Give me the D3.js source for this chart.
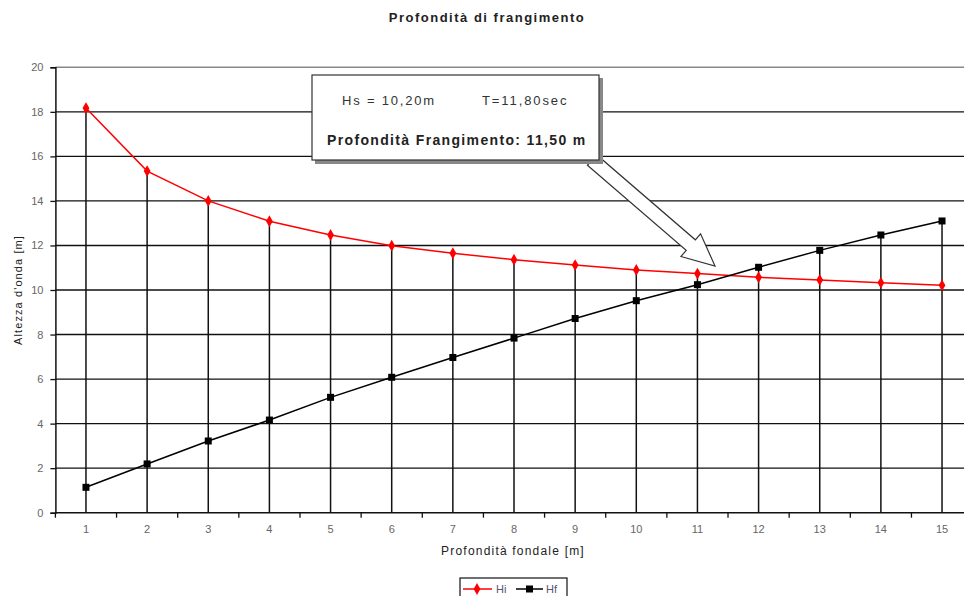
<!DOCTYPE html>
<html><head><meta charset="utf-8">
<script src="https://cdn.jsdelivr.net/npm/d3@7"></script>
<style>body{margin:0;background:#fff;}svg{display:block;font-family:"Liberation Sans",Arial,sans-serif;}</style>
</head><body><svg id="c" width="964" height="596"></svg>
<script>
const categories = [1,2,3,4,5,6,7,8,9,10,11,12,13,14,15];
const hiValues = [18.17,15.34,14.0,13.09,12.47,11.99,11.65,11.36,11.12,10.9,10.74,10.57,10.45,10.33,10.21];
const hfValues = [1.14,2.19,3.22,4.16,5.18,6.08,6.97,7.84,8.72,9.52,10.24,11.02,11.78,12.47,13.1];
const yTicks = [0,2,4,6,8,10,12,14,16,18,20];
const seriesNames = ["Hi","Hf"];
const titleText = "Profondità di frangimento";
const xTitle = "Profondità fondale [m]";
const yTitle = "Altezza d'onda [m]";
const noteLine1a = "Hs = 10,20m";
const noteLine1b = "T=11,80sec";
const noteLine2 = "Profondità Frangimento: 11,50 m";

const svg = d3.select("#c");
const L = 55.4, R = 972.6, T = 67.3, B = 512.7;
const x = d3.scaleBand().domain(categories).range([L, R]);
const cx = d => x(d) + x.bandwidth()/2;
const y = d3.scaleLinear().domain([0,20]).range([B, T]);

// title
svg.append("text").attr("x", 487).attr("y", 22).attr("text-anchor","middle")
  .attr("font-size", 13).attr("font-weight","bold").attr("fill","#222").attr("letter-spacing","1.5").text(titleText);

// horizontal gridlines
svg.append("g").selectAll("line").data(yTicks.filter(v => v > 0)).join("line")
  .attr("x1", L).attr("x2", R).attr("y1", d => y(d)).attr("y2", d => y(d))
  .attr("stroke", d => d === 20 ? "#888" : "#111").attr("stroke-width", 1.4);

// drop lines
svg.append("g").selectAll("line").data(categories).join("line")
  .attr("x1", d => cx(d)).attr("x2", d => cx(d))
  .attr("y1", B).attr("y2", (d,i) => y(Math.max(hiValues[i], hfValues[i])))
  .attr("stroke", "#111").attr("stroke-width", 1.5);

// y axis
const ya = svg.append("g").attr("transform", `translate(${L},0)`)
  .call(d3.axisLeft(y).tickValues(yTicks).tickSize(5).tickPadding(7).tickFormat(d3.format("d")));
ya.select(".domain").attr("stroke","#111").attr("stroke-width",1.5);
ya.selectAll(".tick line").attr("stroke","#111").attr("stroke-width",1.3);
ya.selectAll("text").attr("font-size", 11).attr("fill","#666").attr("font-family","Liberation Sans, Arial, sans-serif");

// x axis
const xa = svg.append("g").attr("transform", `translate(0,${B})`)
  .call(d3.axisBottom(x).tickSize(0).tickPadding(13));
xa.select(".domain").remove();
xa.selectAll("text").attr("font-size", 11).attr("fill","#666").attr("font-family","Liberation Sans, Arial, sans-serif");
svg.append("line").attr("x1", L).attr("x2", R).attr("y1", B).attr("y2", B).attr("stroke","#111").attr("stroke-width",1.5);
const bounds = categories.map(d => x(d)).concat([R]);
svg.append("g").selectAll("line").data(bounds).join("line")
  .attr("x1", d => d).attr("x2", d => d).attr("y1", B).attr("y2", B + 5)
  .attr("stroke","#111").attr("stroke-width",1.3);

// axis titles
svg.append("text").attr("x", 513).attr("y", 555).attr("text-anchor","middle")
  .attr("font-size", 12).attr("fill","#222").attr("letter-spacing","1.2").text(xTitle);
svg.append("text").attr("transform", `translate(22,290) rotate(-90)`).attr("text-anchor","middle")
  .attr("font-size", 11).attr("fill","#222").attr("letter-spacing","1.1").text(yTitle);

// lines
const line = d3.line().x((d,i) => cx(categories[i])).y(d => y(d));
svg.append("path").datum(hiValues).attr("d", line).attr("fill","none").attr("stroke","#ff0000").attr("stroke-width",1.5);
svg.append("path").datum(hfValues).attr("d", line).attr("fill","none").attr("stroke","#000").attr("stroke-width",1.5);

// markers
svg.append("g").selectAll("path").data(hiValues).join("path")
  .attr("transform", (d,i) => `translate(${cx(categories[i])},${y(d)})`)
  .attr("d", d3.symbol(d3.symbolDiamond, 40)).attr("fill","#ff0000");
svg.append("g").selectAll("rect").data(hfValues).join("rect")
  .attr("x", (d,i) => cx(categories[i]) - 3.5).attr("y", d => y(d) - 3.5)
  .attr("width", 7).attr("height", 7).attr("fill","#000");

// annotation arrow (block arrow)
(function(){
  const sx = 592, sy = 160, tx = 715, ty = 266;
  const dx = tx - sx, dy = ty - sy, len = Math.hypot(dx, dy);
  const ux = dx/len, uy = dy/len, px = -uy, py = ux;
  const sw = 7, hw = 15, hl = 32;
  const bx = tx - ux*hl, by = ty - uy*hl;
  const pts = [
    [sx + px*sw, sy + py*sw], [bx + px*sw, by + py*sw], [bx + px*hw, by + py*hw], [tx, ty],
    [bx - px*hw, by - py*hw], [bx - px*sw, by - py*sw], [sx - px*sw, sy - py*sw]
  ];
  svg.append("path").attr("d", "M" + pts.map(p => p.join(",")).join("L") + "Z")
    .attr("fill","#fff").attr("stroke","#333").attr("stroke-width",1.2);
})();

// annotation box
svg.append("rect").attr("x", 315).attr("y", 78).attr("width", 288).attr("height", 86).attr("fill","#888");
svg.append("rect").attr("x", 312).attr("y", 75).attr("width", 287).attr("height", 85)
  .attr("fill","#fff").attr("stroke","#333").attr("stroke-width",1.2);
svg.append("text").attr("x", 342).attr("y", 105).attr("font-size", 13).attr("fill","#333").attr("letter-spacing","1.8").text(noteLine1a);
svg.append("text").attr("x", 482).attr("y", 105).attr("font-size", 13).attr("fill","#333").attr("letter-spacing","1.9").text(noteLine1b);
svg.append("text").attr("x", 327).attr("y", 145).attr("font-size", 14).attr("font-weight","bold").attr("fill","#222").attr("letter-spacing","1.35").text(noteLine2);

// legend
const lg = svg.append("g");
lg.append("rect").attr("x", 460).attr("y", 578).attr("width", 107).attr("height", 24)
  .attr("fill","#fff").attr("stroke","#111").attr("stroke-width",1.2);
lg.append("line").attr("x1", 463).attr("x2", 492).attr("y1", 589).attr("y2", 589).attr("stroke","#ff0000").attr("stroke-width",1.5);
lg.append("path").attr("transform","translate(477,589)").attr("d", d3.symbol(d3.symbolDiamond, 40)).attr("fill","#ff0000");
lg.append("text").attr("x", 496).attr("y", 593).attr("font-size", 11).attr("fill","#557").text(seriesNames[0]);
lg.append("line").attr("x1", 516).attr("x2", 543).attr("y1", 589).attr("y2", 589).attr("stroke","#000").attr("stroke-width",1.5);
lg.append("rect").attr("x", 526).attr("y", 585.5).attr("width", 7).attr("height", 7).attr("fill","#000");
lg.append("text").attr("x", 546).attr("y", 593).attr("font-size", 11).attr("fill","#557").text(seriesNames[1]);
</script></body></html>
